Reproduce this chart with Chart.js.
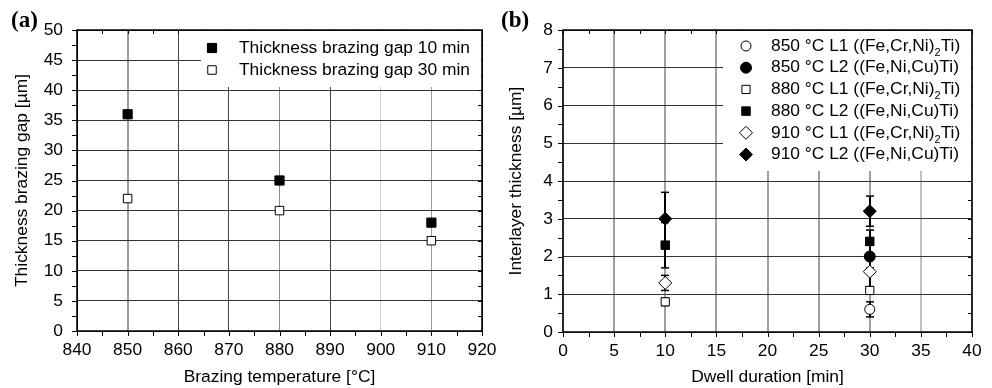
<!DOCTYPE html>
<html>
<head>
<meta charset="utf-8">
<script src="https://cdn.jsdelivr.net/npm/chart.js@4.4.0/dist/chart.umd.min.js"></script>
<style>
  html, body { margin: 0; padding: 0; background: #fff; }
  #page { position: relative; width: 992px; height: 388px; overflow: hidden; }
  .panel { position: absolute; top: 0; height: 388px; }
  #panelA { left: 0; width: 500px; z-index: 2; }
  #panelB { left: 490px; width: 502px; z-index: 1; }
  .tag { position: absolute; top: 7px; z-index: 3; font: bold 23px "Liberation Serif", "DejaVu Serif", serif; color: #000; }
</style>
</head>
<body>
<div id="page">
  <div class="panel" id="panelA"><canvas id="chartA"></canvas></div>
  <div class="panel" id="panelB"><canvas id="chartB"></canvas></div>
  <div class="tag" style="left:11px">(a)</div>
  <div class="tag" style="left:501px">(b)</div>
</div>
<script>
// panel (a): brazing gap vs temperature
const brazingTemps = [850, 880, 910];
const gap10min = [36, 25, 18];
const gap30min = [22, 20, 15];
const legendA = ["Thickness brazing gap 10 min", "Thickness brazing gap 30 min"];

// panel (b): interlayer thickness vs dwell time
const dwellTimes = [10, 30];
const l1_850 = [null, 0.6];
const l1_850Err = [0, 0.2];
const l2_850 = [null, 2.0];
const l2_850Err = [0, 0.3];
const l1_880 = [0.8, 1.1];
const l1_880Err = [0.1, 0.1];
const l2_880 = [2.3, 2.4];
const l2_880Err = [0.6, 0.3];
const l1_910 = [1.3, 1.6];
const l1_910Err = [0.2, 0.4];
const l2_910 = [3.0, 3.2];
const l2_910Err = [0.7, 0.4];
const legendB = [
  "850 °C L1 ((Fe,Cr,Ni)₂Ti)",
  "850 °C L2 ((Fe,Ni,Cu)Ti)",
  "880 °C L1 ((Fe,Cr,Ni)₂Ti)",
  "880 °C L2 ((Fe,Ni,Cu)Ti)",
  "910 °C L1 ((Fe,Cr,Ni)₂Ti)",
  "910 °C L2 ((Fe,Ni,Cu)Ti)"
];

const FONT = '"Liberation Sans", Arial, sans-serif';
const FS = 17.4;
const toPoints = (xs, ys) => xs.map((x, i) => ({ x: x, y: ys[i] })).filter(p => p.y !== null);

function line(ctx, x1, y1, x2, y2) {
  ctx.beginPath(); ctx.moveTo(x1, y1); ctx.lineTo(x2, y2); ctx.stroke();
}

function drawLegend(chart, box) {
  const ctx = chart.ctx;
  const a = chart.chartArea;
  ctx.save();
  ctx.fillStyle = "#fff";
  ctx.fillRect(box.x, a.top + 1, a.right - box.x - 1, box.h);
  ctx.textBaseline = "middle";
  chart.data.datasets.forEach((ds, i) => {
    const cy = a.top + box.first + i * box.step;
    ctx.fillStyle = ds.backgroundColor;
    ctx.strokeStyle = "#000";
    ctx.lineWidth = 1;
    Chart.helpers.drawPoint(ctx, { pointStyle: ds.pointStyle, radius: ds.pointRadius, borderWidth: 1, rotation: 0 }, box.markerX, cy);
    ctx.fillStyle = "#000";
    ctx.font = FS + "px " + FONT;
    const parts = ds.label.split("₂");
    let x = box.textX;
    ctx.fillText(parts[0], x, cy);
    x += ctx.measureText(parts[0]).width;
    if (parts.length > 1) {
      ctx.font = "11px " + FONT;
      ctx.fillText("2", x, cy + 7);
      x += ctx.measureText("2").width;
      ctx.font = FS + "px " + FONT;
      ctx.fillText(parts[1], x, cy);
    }
  });
  ctx.restore();
}

const frameTicks = {
  id: "frameTicks",
  afterDraw(chart, args, opts) {
    const { ctx, chartArea: a, scales: { x, y } } = chart;
    ctx.save();
    ctx.strokeStyle = "#000";
    ctx.lineWidth = 1;
    for (let v = x.min; v <= x.max + 1e-9; v += opts.xMinor) {
      const px = Math.round(x.getPixelForValue(v)) + 0.5;
      line(ctx, px, a.bottom, px, a.bottom + 5);
      line(ctx, px, a.top, px, a.top + 4);
    }
    for (let v = y.min; v <= y.max + 1e-9; v += opts.yMinor) {
      const py = Math.round(y.getPixelForValue(v)) + 0.5;
      line(ctx, a.left - 5, py, a.left, py);
      line(ctx, a.right - 4, py, a.right, py);
    }
    ctx.restore();
    drawLegend(chart, opts.legend);
    ctx.save();
    ctx.strokeStyle = "#000";
    ctx.lineWidth = 1.5;
    ctx.strokeRect(a.left, a.top, a.right - a.left, a.bottom - a.top);
    ctx.restore();
  }
};

const errorBars = {
  id: "errorBars",
  beforeDatasetsDraw(chart) {
    const { ctx, scales: { x, y } } = chart;
    ctx.save();
    ctx.strokeStyle = "#000";
    chart.data.datasets.forEach(ds => {
      if (!ds.errors) return;
      ds.data.forEach(p => {
        const e = ds.errors[dwellTimes.indexOf(p.x)];
        if (!e) return;
        const px = Math.round(x.getPixelForValue(p.x));
        const top = y.getPixelForValue(p.y + e);
        const bot = y.getPixelForValue(p.y - e);
        ctx.lineWidth = 2;
        line(ctx, px, top, px, bot);
        ctx.lineWidth = 1.5;
        line(ctx, px - 4, top, px + 4, top);
        line(ctx, px - 4, bot, px + 4, bot);
      });
    });
    ctx.restore();
  }
};

function baseScales(o) {
  return {
    x: {
      type: "linear", min: o.xMin, max: o.xMax,
      ticks: { stepSize: o.xStep, color: "#000", font: { family: FONT, size: FS }, padding: 9, maxRotation: 0 },
      grid: { color: o.xGridColor, lineWidth: o.xGridWidth, drawTicks: false },
      border: { display: false },
      title: { display: true, text: o.xTitle, color: "#000", font: { family: FONT, size: FS }, padding: { top: 0, bottom: 0 } },
      afterFit: s => { s.height = o.xHeight; s.paddingLeft = 0; s.paddingRight = 0; }
    },
    y: {
      type: "linear", min: o.yMin, max: o.yMax,
      ticks: { stepSize: o.yStep, color: "#000", font: { family: FONT, size: FS }, padding: o.yPad },
      grid: { color: "#333", lineWidth: 1, drawTicks: false },
      border: { display: false },
      title: { display: true, text: o.yTitle, color: "#000", font: { family: FONT, size: FS }, padding: { top: o.yTitlePad, bottom: 0 } },
      afterFit: s => { s.width = o.yWidth; s.paddingTop = 0; s.paddingBottom = 0; }
    }
  };
}

const common = {
  responsive: true,
  maintainAspectRatio: false,
  animation: false,
  events: []
};

const gridColorA = { 850: "#9a9a9a", 860: "#444", 870: "#444", 880: "#8c8c8c", 890: "#444", 900: "#d0d0d0", 910: "#9a9a9a" };

new Chart(document.getElementById("chartA"), {
  type: "scatter",
  data: {
    datasets: [
      { label: legendA[0], data: toPoints(brazingTemps, gap10min), pointStyle: "rect", pointRadius: 6.5,
        backgroundColor: "#000", borderColor: "#000", borderWidth: 1 },
      { label: legendA[1], data: toPoints(brazingTemps, gap30min), pointStyle: "rect", pointRadius: 6,
        backgroundColor: "#fff", borderColor: "#000", borderWidth: 1 }
    ]
  },
  options: Object.assign({}, common, {
    layout: { padding: { top: 30, right: 18, left: 0, bottom: 0 } },
    scales: baseScales({
      xMin: 840, xMax: 920, xStep: 10, yMin: 0, yMax: 50, yStep: 5,
      xTitle: "Brazing temperature [°C]", yTitle: "Thickness brazing gap [µm]",
      xGridColor: c => gridColorA[c.tick.value] || "#000",
      xGridWidth: c => (c.tick.value === 850 ? 2 : 1),
      xHeight: 57, yWidth: 77, yPad: 14, yTitlePad: 12
    }),
    plugins: {
      legend: { display: false },
      tooltip: { enabled: false },
      frameTicks: { xMinor: 5, yMinor: 2.5, legend: { x: 201, h: 56, first: 18, step: 22, markerX: 212, textX: 239 } }
    }
  }),
  plugins: [frameTicks]
});

new Chart(document.getElementById("chartB"), {
  type: "scatter",
  data: {
    datasets: [
      { label: legendB[0], data: toPoints(dwellTimes, l1_850), errors: l1_850Err, pointStyle: "circle", pointRadius: 5,
        backgroundColor: "#fff", borderColor: "#000", borderWidth: 1 },
      { label: legendB[1], data: toPoints(dwellTimes, l2_850), errors: l2_850Err, pointStyle: "circle", pointRadius: 5.5,
        backgroundColor: "#000", borderColor: "#000", borderWidth: 1 },
      { label: legendB[2], data: toPoints(dwellTimes, l1_880), errors: l1_880Err, pointStyle: "rect", pointRadius: 5.8,
        backgroundColor: "#fff", borderColor: "#000", borderWidth: 1 },
      { label: legendB[3], data: toPoints(dwellTimes, l2_880), errors: l2_880Err, pointStyle: "rect", pointRadius: 6,
        backgroundColor: "#000", borderColor: "#000", borderWidth: 1 },
      { label: legendB[4], data: toPoints(dwellTimes, l1_910), errors: l1_910Err, pointStyle: "rectRot", pointRadius: 6.5,
        backgroundColor: "#fff", borderColor: "#000", borderWidth: 1 },
      { label: legendB[5], data: toPoints(dwellTimes, l2_910), errors: l2_910Err, pointStyle: "rectRot", pointRadius: 6.5,
        backgroundColor: "#000", borderColor: "#000", borderWidth: 1 }
    ]
  },
  options: Object.assign({}, common, {
    layout: { padding: { top: 30, right: 20, left: 0, bottom: 0 } },
    scales: baseScales({
      xMin: 0, xMax: 40, xStep: 5, yMin: 0, yMax: 8, yStep: 1,
      xTitle: "Dwell duration [min]", yTitle: "Interlayer thickness [µm]",
      xGridColor: c => (c.tick.value === 35 ? "#c0c0c0" : "#a0a0a0"),
      xGridWidth: 2,
      xHeight: 56, yWidth: 73, yPad: 10, yTitlePad: 16
    }),
    plugins: {
      legend: { display: false },
      tooltip: { enabled: false },
      frameTicks: { xMinor: 2.5, yMinor: 0.5, legend: { x: 233, h: 140, first: 16, step: 21.7, markerX: 256, textX: 281 } }
    }
  }),
  plugins: [errorBars, frameTicks]
});
</script>
</body>
</html>
